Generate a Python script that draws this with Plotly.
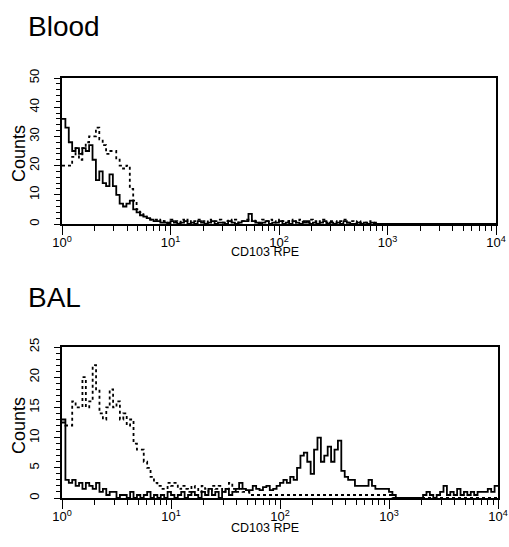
import numpy as np
import plotly.graph_objects as go

# Histogram channel counts (128 log-spaced channels over 10^0..10^4)
blood_solid = [36, 33, 28, 25, 26, 24, 26, 25, 27, 22,
               15, 18, 14, 13, 17, 13, 10, 7, 6, 7,
               8, 5, 4, 3, 2.5, 2, 1.5, 1, 1, 0.5,
               0.5, 0, 1, 0.5, 0, 0.5, 1, 0, 0.5, 0,
               1, 0.5, 0, 0.5, 1, 0, 0.5, 0.5, 0, 1,
               0.5, 0, 0.5, 1, 1, 3.5, 1, 0.5, 0, 0.5,
               1, 0, 0.5, 0.5, 1, 0, 0.5, 0, 1, 0.5,
               0, 0.5, 1, 0, 0.5, 0, 0.5, 1, 0, 0.5,
               0, 0.5, 0, 1, 0.5, 0, 0, 0.5, 0, 0.5,
               0, 0.5, 0, 0, 0, 0, 0, 0, 0, 0,
               0, 0, 0, 0, 0, 0, 0, 0, 0, 0,
               0, 0, 0, 0, 0, 0, 0, 0, 0, 0,
               0, 0, 0, 0, 0, 0, 0, 0]
blood_dotted = [20, 20, 20, 23, 26, 22, 26, 28, 30, 30,
                33, 29, 27, 24, 25, 25, 22, 20, 19, 20,
                12, 8, 5, 4, 3, 2, 1.5, 1.5, 1, 1.5,
                1, 0.5, 1.5, 1, 0.5, 1.5, 1, 1.5, 0.5, 1,
                1.5, 1, 0.5, 1.5, 1, 1, 1.5, 0.5, 1, 1.5,
                1, 1.5, 0.5, 1, 1.5, 1, 1.5, 1, 0.5, 1.5,
                1, 1.5, 1, 0.5, 1.5, 1, 1, 1.5, 0.5, 1,
                1.5, 1, 0.5, 1.5, 1, 0.5, 1, 1.5, 0.5, 1,
                1, 0.5, 1, 1.5, 0.5, 1, 0.5, 1, 0.5, 0.5,
                1, 0.5, 0.5, 0, 0, 0, 0, 0, 0, 0,
                0, 0, 0, 0, 0, 0, 0, 0, 0, 0,
                0, 0, 0, 0, 0, 0, 0, 0, 0, 0,
                0, 0, 0, 0, 0, 0, 0, 0]
bal_solid = [13, 3, 2.5, 3, 2, 2.5, 1.5, 2.5, 2, 1.5,
             2.5, 1, 1.5, 0.5, 1, 1, 0, 0.5, 0.5, 0,
             1, 0, 0.5, 0, 0.5, 1, 0, 0.5, 0, 0.5,
             0, 1, 0.5, 0, 0.5, 1, 0, 0.5, 1, 0.5,
             0, 1, 0.5, 1.5, 0.5, 1, 0, 1, 1.5, 0.5,
             1, 1.5, 2.5, 1.5, 1.3, 1.3, 2, 1.5, 1.3, 1.8,
             2, 1.3, 1.5, 2, 2.5, 3, 2.5, 3.5, 3, 5,
             7, 7.5, 6, 4, 8, 10, 6, 7, 8.5, 6,
             8, 9.5, 4.5, 3.5, 3, 3, 2, 2, 2, 2,
             3, 2, 1.5, 1.5, 1.5, 1.5, 1, 0.5, 0, 0,
             0, 0, 0, 0, 0, 0, 0.5, 1, 0.5, 0,
             0.5, 1, 2, 0.5, 1, 0.5, 1.5, 0.5, 1, 0.5,
             1, 0.5, 1, 1, 1, 1.5, 1, 2]
bal_dotted = [12.5, 12, 12, 16, 15, 15, 20, 15, 16, 22,
              18, 14, 13, 15, 18, 15, 16, 13, 14, 12,
              13, 9, 8, 8, 6, 5, 3.5, 2.5, 2, 1.5,
              1.5, 2.5, 2, 2.5, 1.5, 2, 1.5, 1, 2, 1.5,
              1, 2, 1.5, 1, 2, 1.5, 2, 1, 1.5, 2.5,
              1.5, 1, 1.5, 1, 1, 0.5, 0.5, 0.5, 0.5, 0.5,
              0.5, 0.5, 0.5, 0.5, 0.5, 0.5, 0.5, 0.5, 0.5, 0.5,
              0.5, 0.5, 0.5, 0.5, 0.5, 0.5, 0.5, 0.5, 0.5, 0.5,
              0.5, 0.5, 0.5, 0.5, 0.5, 0.5, 0.5, 0.5, 0.5, 0.5,
              0.5, 0.5, 0.5, 0.5, 0.5, 0.5, 0.5, 0, 0, 0,
              0, 0, 0, 0, 0, 0, 0, 0, 0, 0,
              0, 0, 0, 0, 0, 0, 0, 0, 0, 0,
              0, 0, 0, 0, 0, 0, 0, 0]

panel_titles = ["Blood", "BAL"]
x_title = "CD103 RPE"
y_title = "Counts"
x_tickvals = [1, 10, 100, 1000, 10000]
x_ticktext = ["10<sup>0</sup>", "10<sup>1</sup>", "10<sup>2</sup>", "10<sup>3</sup>", "10<sup>4</sup>"]
x_minor = [m * d for d in [1, 10, 100, 1000] for m in range(2, 10)]
top_yticks = [0, 10, 20, 30, 40, 50]
bot_yticks = [0, 5, 10, 15, 20, 25]

n_ch = len(blood_solid)
edges = np.logspace(0, 4, n_ch + 1)

def step(vals):
    return list(edges), list(vals) + [vals[-1]]

FONT = "Liberation Sans, Arial, sans-serif"
fig = go.Figure()
for vals, ax, dash in [(blood_dotted, 1, "dot"), (blood_solid, 1, "solid"),
                       (bal_dotted, 2, "dot"), (bal_solid, 2, "solid")]:
    xs, ys = step(vals)
    fig.add_trace(go.Scatter(x=xs, y=ys, mode="lines", line_shape="hv",
                             line=dict(color="black", width=1.8, dash=dash),
                             xaxis="x" if ax == 1 else "x2",
                             yaxis="y" if ax == 1 else "y2",
                             hoverinfo="skip"))

def xaxis_cfg(domain, anchor):
    return dict(domain=domain, anchor=anchor, type="log", range=[0, 4],
                automargin=False,
                tickmode="array", tickvals=x_tickvals, ticktext=x_ticktext,
                ticks="outside", ticklen=9, tickwidth=1.2, tickcolor="black",
                ticklabelstandoff=-3,
                showline=True, linecolor="black", linewidth=1.6, mirror=True,
                showgrid=False, zeroline=False,
                tickfont=dict(family=FONT, size=13, color="black"),
                minor=dict(tickmode="array", tickvals=x_minor, ticks="outside",
                           ticklen=5, tickwidth=1, tickcolor="black", showgrid=False))

def yaxis_cfg(domain, anchor, rng, tv, minor_dt):
    return dict(domain=domain, anchor=anchor, range=rng, tickmode="array",
                automargin=False,
                tickvals=tv, tickangle=-90,
                ticks="outside", ticklen=6, tickwidth=1.2, tickcolor="black",
                showline=True, linecolor="black", linewidth=1.6, mirror=True,
                showgrid=False, zeroline=False,
                tickfont=dict(family=FONT, size=13, color="black"),
                ticklabelstandoff=10,
                minor=dict(dtick=minor_dt, ticks="outside", ticklen=4, tickwidth=1,
                           tickcolor="black", showgrid=False))

W, H = 509, 547

def ann(text, xpx, ypx, size, xanchor="left", angle=0):
    return dict(text=text, x=xpx / W, y=1 - ypx / H, xref="paper", yref="paper",
                xanchor=xanchor, yanchor="middle", showarrow=False, textangle=angle,
                font=dict(family=FONT, size=size, color="black"))

fig.update_layout(
    width=W, height=H, margin=dict(l=0, r=0, t=0, b=0, autoexpand=False),
    paper_bgcolor="white", plot_bgcolor="white", showlegend=False,
    xaxis=xaxis_cfg([62 / W, 496 / W], "y"),
    yaxis=yaxis_cfg([1 - 224 / H, 1 - 78 / H], "x", [0, 50], top_yticks, 2),
    xaxis2=xaxis_cfg([62 / W, 498 / W], "y2"),
    yaxis2=yaxis_cfg([1 - 498 / H, 1 - 347 / H], "x2", [0, 25], bot_yticks, 1),
    annotations=[
        ann(panel_titles[0], 26, 26.5, 28),
        ann(panel_titles[1], 26, 298, 28),
        ann(x_title, 265, 252, 12.5, "center"),
        ann(x_title, 265, 528, 12.5, "center"),
        ann(y_title, 19, 154, 18, "center", -90),
        ann(y_title, 19, 426, 18, "center", -90),
    ],
)
fig.write_html("out.html", config={"displayModeBar": False},
               post_script="document.body.style.margin='0';document.body.style.overflow='hidden';")
